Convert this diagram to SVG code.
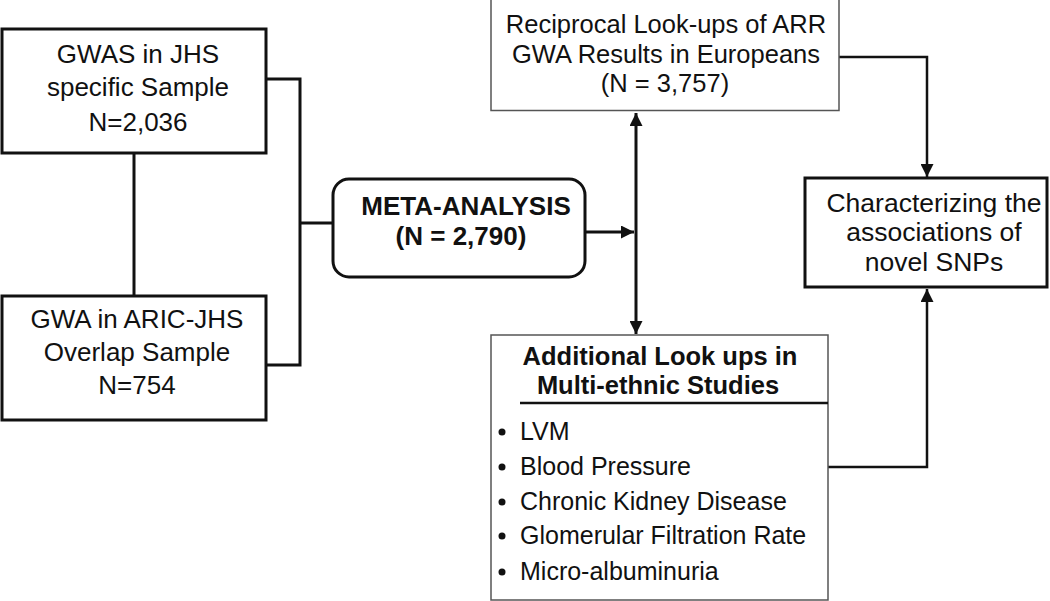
<svg xmlns="http://www.w3.org/2000/svg" width="1050" height="601" viewBox="0 0 1050 601">
<style>
text{font-family:"Liberation Sans",Arial,sans-serif;font-size:25.5px;fill:#111}
.c{text-anchor:middle}
.b{font-weight:bold}
.l{font-size:26px}
.s{font-size:25px}
.thick{fill:#fff;stroke:#111;stroke-width:3}
.thin{fill:#fff;stroke:#555;stroke-width:1.5}
.ln{fill:none;stroke:#111;stroke-width:3}
.ln2{fill:none;stroke:#111;stroke-width:2.5}
</style>
<defs>
<marker id="ah" viewBox="0 0 10 10" refX="10" refY="5" markerWidth="15" markerHeight="13" markerUnits="userSpaceOnUse" orient="auto">
<path d="M0,0 L10,5 L0,10 Z" fill="#111"/>
</marker>
</defs>
<g id="connectors">
<path class="ln" d="M134,153 V296"/>
<path class="ln" d="M266,79 H300 V365 H266"/>
<path class="ln" d="M300,223 H333"/>
<path class="ln" d="M585,232 H634" marker-end="url(#ah)"/>
<path class="ln" d="M636,232 V113" marker-end="url(#ah)"/>
<path class="ln" d="M636,232 V334" marker-end="url(#ah)"/>
<path class="ln2" d="M839,57 H927 V177" marker-end="url(#ah)"/>
<path class="ln2" d="M828,467 H927 V289" marker-end="url(#ah)"/>
</g>
<g id="gwas-jhs">
<rect class="thick" x="2" y="29" width="264" height="124"/>
<text class="c l" x="138" y="63">GWAS in JHS</text>
<text class="c l" x="138" y="96">specific Sample</text>
<text class="c l" x="138" y="131">N=2,036</text>
</g>
<g id="gwa-aric">
<rect class="thick" x="2" y="296" width="264" height="124"/>
<text class="c l" x="137" y="328">GWA in ARIC-JHS</text>
<text class="c l" x="137" y="361">Overlap Sample</text>
<text class="c l" x="137" y="394">N=754</text>
</g>
<g id="meta">
<rect class="thick" x="333" y="179" width="252" height="98" rx="16" ry="16"/>
<text class="c b l" x="466" y="215">META-ANALYSIS</text>
<text class="c b l" x="461" y="245">(N = 2,790)</text>
</g>
<g id="reciprocal">
<rect class="thin" x="491" y="-1" width="348" height="111.5"/>
<text class="c" x="666" y="33">Reciprocal Look-ups of ARR</text>
<text class="c" x="666" y="63">GWA Results in Europeans</text>
<text class="c" x="665" y="92">(N = 3,757)</text>
</g>
<g id="characterizing">
<rect class="thick" x="805" y="178" width="242" height="109"/>
<text class="c" x="934" y="212" style="font-size:26.5px">Characterizing the</text>
<text class="c" x="934" y="241" style="font-size:26.5px">associations of</text>
<text class="c" x="934" y="271" style="font-size:26.5px">novel SNPs</text>
</g>
<g id="additional">
<rect class="thin" x="491" y="335" width="337" height="265"/>
<text class="c b" x="660" y="365">Additional Look ups in</text>
<text class="c b" x="658" y="394">Multi-ethnic Studies</text>
<line x1="520" y1="403" x2="828" y2="403" stroke="#111" stroke-width="2.5"/>
<circle cx="502" cy="432" r="3.5" fill="#111"/>
<text class="s" x="520" y="440">LVM</text>
<circle cx="502" cy="467" r="3.5" fill="#111"/>
<text class="s" x="520" y="475">Blood Pressure</text>
<circle cx="502" cy="502" r="3.5" fill="#111"/>
<text class="s" x="520" y="510">Chronic Kidney Disease</text>
<circle cx="502" cy="536" r="3.5" fill="#111"/>
<text class="s" x="520" y="544">Glomerular Filtration Rate</text>
<circle cx="502" cy="572" r="3.5" fill="#111"/>
<text class="s" x="520" y="580">Micro-albuminuria</text>
</g>
</svg>
